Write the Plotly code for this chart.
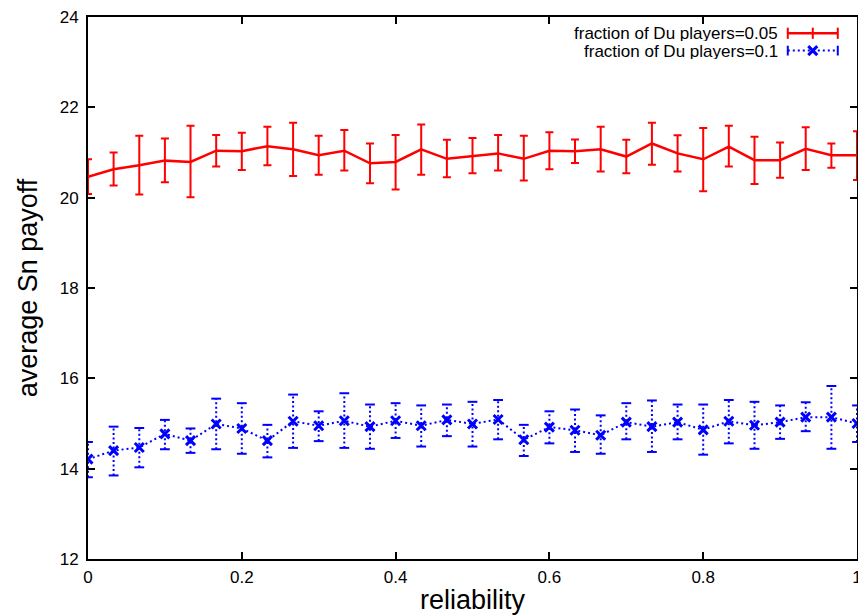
import plotly.graph_objects as go

reliability = [0.0, 0.0333, 0.0667, 0.1, 0.1333, 0.1667, 0.2, 0.2333, 0.2667, 0.3,
               0.3333, 0.3667, 0.4, 0.4333, 0.4667, 0.5, 0.5333, 0.5667, 0.6, 0.6333,
               0.6667, 0.7, 0.7333, 0.7667, 0.8, 0.8333, 0.8667, 0.9, 0.9333, 0.9667, 1.0]

red_mean = [20.46, 20.63, 20.72, 20.82, 20.79, 21.04, 21.03, 21.14, 21.07, 20.94, 21.04,
            20.76, 20.79, 21.07, 20.86, 20.92, 20.98, 20.86, 21.04, 21.03, 21.07, 20.91,
            21.20, 20.98, 20.85, 21.13, 20.83, 20.83, 21.08, 20.94, 20.94]
red_hi = [20.85, 21.00, 21.37, 21.31, 21.59, 21.39, 21.44, 21.57, 21.66, 21.37, 21.50,
          21.20, 21.39, 21.62, 21.28, 21.32, 21.39, 21.37, 21.45, 21.29, 21.57, 21.28,
          21.66, 21.38, 21.54, 21.59, 21.35, 21.22, 21.56, 21.20, 21.47]
red_lo = [20.08, 20.27, 20.07, 20.34, 20.01, 20.69, 20.61, 20.72, 20.48, 20.51, 20.60,
          20.32, 20.18, 20.51, 20.45, 20.54, 20.60, 20.38, 20.63, 20.77, 20.58, 20.54,
          20.73, 20.58, 20.14, 20.69, 20.30, 20.44, 20.61, 20.66, 20.39]

blue_mean = [14.21, 14.40, 14.47, 14.77, 14.62, 14.99, 14.89, 14.62, 15.05, 14.95, 15.06,
             14.93, 15.06, 14.95, 15.08, 14.99, 15.09, 14.64, 14.92, 14.85, 14.74, 15.03,
             14.93, 15.03, 14.86, 15.05, 14.96, 15.03, 15.14, 15.14, 15.00]
blue_hi = [14.59, 14.93, 14.90, 15.08, 14.89, 15.55, 15.45, 14.97, 15.64, 15.27, 15.67,
           15.42, 15.45, 15.40, 15.42, 15.48, 15.52, 14.97, 15.27, 15.31, 15.18, 15.45,
           15.51, 15.42, 15.42, 15.52, 15.48, 15.40, 15.47, 15.83, 15.40]
blue_lo = [13.81, 13.85, 14.03, 14.43, 14.35, 14.43, 14.33, 14.25, 14.46, 14.61, 14.46,
           14.44, 14.68, 14.49, 14.72, 14.49, 14.65, 14.28, 14.56, 14.37, 14.33, 14.65,
           14.37, 14.65, 14.31, 14.56, 14.44, 14.66, 14.83, 14.44, 14.59]

labels = ["fraction of Du players=0.05", "fraction of Du players=0.1"]
x_ticks = [0, 0.2, 0.4, 0.6, 0.8, 1]
x_ticktext = ["0", "0.2", "0.4", "0.6", "0.8", "1"]
y_ticks = [12, 14, 16, 18, 20, 22, 24]

RED = "#ff0000"
BLUE = "#0000ff"
FONT = "Liberation Sans, Arial, sans-serif"

fig = go.Figure()

# red series with solid error bars
fig.add_trace(go.Scatter(
    x=reliability, y=red_mean, mode="lines",
    line=dict(color=RED, width=2.5),
    error_y=dict(type="data", symmetric=False,
                 array=[h - m for h, m in zip(red_hi, red_mean)],
                 arrayminus=[m - l for m, l in zip(red_mean, red_lo)],
                 color=RED, thickness=2, width=4),
    showlegend=False, hoverinfo="skip"))

# blue dotted error bars built from the data
ex, ey = [], []
for xv, lo, hi in zip(reliability, blue_lo, blue_hi):
    ex += [xv, xv, None]
    ey += [lo, hi, None]
fig.add_trace(go.Scatter(
    x=ex, y=ey, mode="lines",
    line=dict(color=BLUE, width=2, dash="2px,2.5px"),
    showlegend=False, hoverinfo="skip"))
# caps
cx, cy = [], []
for xv, lo, hi in zip(reliability, blue_lo, blue_hi):
    cx += [xv, xv]
    cy += [lo, hi]
fig.add_trace(go.Scatter(
    x=cx, y=cy, mode="markers",
    marker=dict(symbol="line-ew", size=7, line=dict(color=BLUE, width=2)),
    showlegend=False, hoverinfo="skip"))
# blue line + x markers
fig.add_trace(go.Scatter(
    x=reliability, y=blue_mean, mode="lines+markers",
    line=dict(color=BLUE, width=2, dash="2px,3px"),
    marker=dict(symbol="x-thin", size=9, line=dict(color=BLUE, width=3)),
    showlegend=False, hoverinfo="skip"))

# legend samples on an overlay axis (key box, top right)
fig.add_trace(go.Scatter(
    x=[0.910, 0.9425, 0.975], y=[0.970, 0.970, 0.970], xaxis="x2", yaxis="y2",
    mode="lines+markers", line=dict(color=RED, width=2.5),
    marker=dict(symbol="line-ns", size=8, line=dict(color=RED, width=2)),
    showlegend=False, hoverinfo="skip"))
fig.add_trace(go.Scatter(
    x=[0.910, 0.975], y=[0.938, 0.938], xaxis="x2", yaxis="y2",
    mode="lines+markers", line=dict(color=BLUE, width=2, dash="2px,3px"),
    marker=dict(symbol="line-ns", size=7, line=dict(color=BLUE, width=2)),
    showlegend=False, hoverinfo="skip"))
fig.add_trace(go.Scatter(
    x=[0.9425], y=[0.938], xaxis="x2", yaxis="y2",
    mode="markers",
    marker=dict(symbol="x-thin", size=9, line=dict(color=BLUE, width=3)),
    showlegend=False, hoverinfo="skip"))

for lab, yv in zip(labels, [0.970, 0.938]):
    fig.add_annotation(x=0.898, y=yv, xref="paper", yref="paper",
                       text=lab, showarrow=False, xanchor="right", yanchor="middle",
                       height=16, borderpad=0, valign="middle",
                       font=dict(family=FONT, size=17, color="black"))

axis_common = dict(showgrid=False, zeroline=False, showline=True, linecolor="black",
                   linewidth=2, mirror="allticks", ticks="inside", ticklen=7,
                   tickwidth=1.5, tickcolor="black", ticklabeloverflow="allow",
                   tickfont=dict(family=FONT, size=17, color="black"))

fig.update_layout(
    width=858, height=615,
    margin=dict(l=88, r=1, t=17, b=56),
    paper_bgcolor="white", plot_bgcolor="white",
    xaxis=dict(range=[0, 1], tickvals=x_ticks, ticktext=x_ticktext,
               ticklabelstandoff=2,
               title=dict(text="reliability", standoff=8,
                          font=dict(family=FONT, size=27, color="black")),
               automargin=False, **axis_common),
    yaxis=dict(range=[12, 24], tickvals=y_ticks, ticklabelstandoff=4,
               title=dict(text="average Sn payoff", standoff=14,
                          font=dict(family=FONT, size=27, color="black")),
               automargin=False, **axis_common),
    xaxis2=dict(range=[0, 1], overlaying="x", visible=False),
    yaxis2=dict(range=[0, 1], overlaying="y", visible=False),
)

fig.write_html("out.html")
